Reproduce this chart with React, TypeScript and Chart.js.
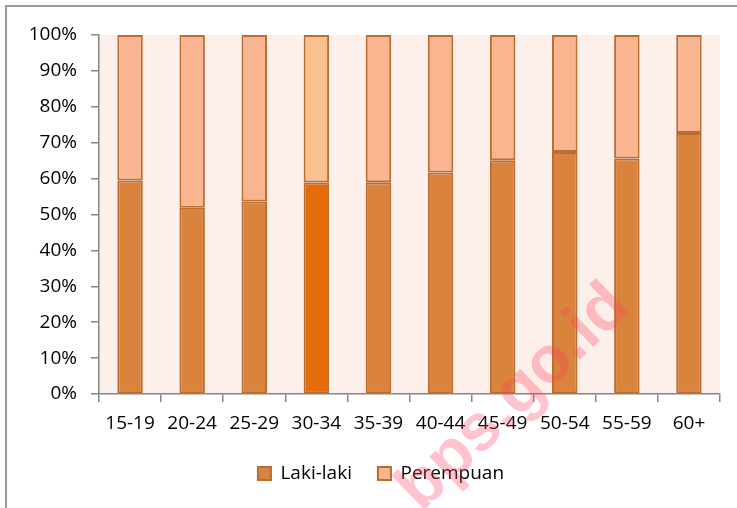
import React, { useEffect, useRef } from "react";
import { Chart, registerables } from "chart.js";

Chart.register(...registerables);

const categories = ["15-19", "20-24", "25-29", "30-34", "35-39", "40-44", "45-49", "50-54", "55-59", "60+"];
const lakiLaki = [59.5, 51.9, 53.6, 58.9, 59.0, 61.7, 65.1, 67.4, 65.6, 72.7];
const perempuan = lakiLaki.map((v) => +(100 - v).toFixed(1));
const yTicks = [0, 10, 20, 30, 40, 50, 60, 70, 80, 90, 100];
const seriesNames = ["Laki-laki", "Perempuan"];
const highlightIndex = 3;

const FONT = "'Open Sans', 'Noto Sans', sans-serif";

const plotBg = {
  id: "plotBg",
  beforeDraw(chart: any) {
    const { ctx, chartArea } = chart;
    ctx.save();
    ctx.fillStyle = "#FDEFEA";
    ctx.fillRect(chartArea.left, chartArea.top, chartArea.right - chartArea.left, chartArea.bottom - chartArea.top);
    ctx.restore();
  },
};

const shiftLegend = {
  id: "shiftLegend",
  afterLayout(chart: any) {
    const lg = chart.legend;
    if (lg) {
      lg.left += 11;
      lg.right += 11;
    }
  },
};

const watermark = {
  id: "watermark",
  afterDraw(chart: any) {
    const { ctx } = chart;
    ctx.save();
    ctx.translate(514, 398);
    ctx.rotate((-44 * Math.PI) / 180);
    ctx.font = "bold 66px 'Liberation Sans', Arial, sans-serif";
    ctx.textAlign = "center";
    ctx.textBaseline = "middle";
    ctx.fillStyle = "rgba(255, 60, 90, 0.3)";
    ctx.fillText("bps.go.id", 0, 0);
    ctx.restore();
  },
};

export default function App() {
  const ref = useRef<HTMLCanvasElement>(null);
  useEffect(() => {
    if (!ref.current) return;
    const chart = new Chart(ref.current, {
      type: "bar",
      data: {
        labels: categories,
        datasets: [
          {
            label: seriesNames[0],
            data: lakiLaki,
            backgroundColor: (c: any) => (c.dataIndex === highlightIndex ? "#E46C0A" : "#DA833C"),
            borderColor: "#B96D33",
            borderWidth: 2,
            borderSkipped: false,
            barPercentage: 0.41,
            categoryPercentage: 1,
          },
          {
            label: seriesNames[1],
            data: perempuan,
            backgroundColor: (c: any) => (c.dataIndex === highlightIndex ? "#FAC090" : "#F9B590"),
            borderColor: "#B96D33",
            borderWidth: 2,
            borderSkipped: false,
            barPercentage: 0.41,
            categoryPercentage: 1,
          },
        ],
      },
      options: {
        animation: false,
        responsive: false,
        layout: { padding: { left: 20, right: 17, top: 35, bottom: 15 } },
        plugins: {
          tooltip: { enabled: false },
          legend: {
            position: "bottom",
            labels: {
              boxWidth: 13,
              boxHeight: 13,
              padding: 26,
              color: "#000",
              font: { family: FONT, size: 19 },
            },
          },
        },
        scales: {
          x: {
            stacked: true,
            afterFit: (s: any) => {
              s.height = 44;
            },
            grid: {
              display: true,
              drawOnChartArea: false,
              offset: true,
              tickLength: 8,
              color: "#868686",
              lineWidth: 1.5,
            },
            border: { display: true, color: "#868686", width: 1.5 },
            ticks: { color: "#000", font: { family: FONT, size: 19 }, padding: 10, maxRotation: 0 },
          },
          y: {
            stacked: true,
            min: 0,
            max: 100,
            afterFit: (s: any) => {
              s.width = 79;
            },
            afterBuildTicks: (s: any) => {
              s.ticks = yTicks.map((v) => ({ value: v }));
            },
            grid: {
              display: true,
              drawOnChartArea: false,
              tickLength: 8,
              color: "#868686",
              lineWidth: 1.5,
            },
            border: { display: true, color: "#868686", width: 1.5 },
            ticks: {
              color: "#000",
              font: { family: FONT, size: 19 },
              padding: 14,
              callback: (v: any) => v + "%",
            },
          },
        },
      },
      plugins: [plotBg, shiftLegend, watermark],
    });
    return () => chart.destroy();
  }, []);

  return (
    <div style={{ position: "fixed", left: 0, top: 0, width: 737, height: 508, background: "#fff" }}>
      <div
        style={{
          position: "absolute",
          left: 5,
          top: 5,
          width: 900,
          height: 700,
          border: "2px solid #9a9a9a",
        }}
      />
      <canvas ref={ref} width={737} height={508} style={{ position: "absolute", left: 0, top: 0 }} />
    </div>
  );
}
